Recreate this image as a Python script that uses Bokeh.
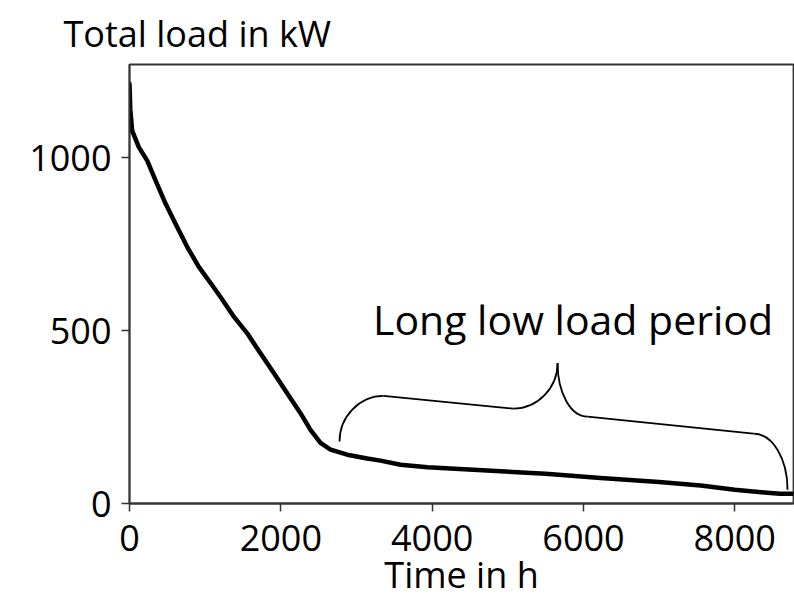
from bokeh.plotting import figure
from bokeh.models import Range1d, FixedTicker, Label
from bokeh.embed import file_html
from bokeh.resources import INLINE

# Load duration curve (hours sorted by load)
hours = [0, 10, 35, 123, 234, 344, 476, 608, 762, 916, 1093, 1203, 1379,
         1556, 1731, 1907, 2084, 2260, 2392, 2524, 2657, 2877, 3142, 3317,
         3583, 3940, 4905, 5500, 6227, 7000, 7549, 8000, 8430, 8600, 8760]
load_kw = [1213, 1140, 1078, 1030, 991, 934, 867, 809, 742, 684, 631, 597,
           540, 492, 434, 377, 319, 261, 213, 175, 156, 141, 130, 124,
           112, 105, 93, 86, 74, 62, 52, 40, 31, 28, 28]

x_ticks = [0, 2000, 4000, 6000, 8000]
y_ticks = [0, 500, 1000]

# Curly brace annotation anchor points (data coordinates)
brace_curves_x0 = [2776, 5075, 5658, 8247]
brace_curves_y0 = [179, 274, 406, 202]
brace_curves_x1 = [3357, 5658, 6055, 8697]
brace_curves_y1 = [311, 406, 251, 40]
brace_curves_cx0 = [2776, 5393, 5658, 8498]
brace_curves_cy0 = [251, 274, 320, 202]
brace_curves_cx1 = [3040, 5658, 5829, 8697]
brace_curves_cy1 = [311, 334, 251, 130]
brace_lines_x0 = [3357, 6055]
brace_lines_y0 = [311, 251]
brace_lines_x1 = [5075, 8247]
brace_lines_y1 = [274, 202]

annotation_text = "Long low load period"
annotation_x = 5862
annotation_y = 532

title_text = "Total load in kW"
xlabel_text = "Time in h"

FONT = "Open Sans"

p = figure(width=794, height=601, output_backend="svg", toolbar_location=None,
           x_range=Range1d(0, 8776), y_range=Range1d(0, 1269),
           min_border_left=129, min_border_right=1, min_border_top=64,
           min_border_bottom=97)

p.line(hours, load_kw, line_color="black", line_width=4.5,
       line_join="round", line_cap="round")

p.bezier(x0=brace_curves_x0, y0=brace_curves_y0, x1=brace_curves_x1,
         y1=brace_curves_y1, cx0=brace_curves_cx0, cy0=brace_curves_cy0,
         cx1=brace_curves_cx1, cy1=brace_curves_cy1,
         line_color="black", line_width=1.8)
p.segment(x0=brace_lines_x0, y0=brace_lines_y0, x1=brace_lines_x1,
          y1=brace_lines_y1, line_color="black", line_width=1.8)

p.add_layout(Label(x=annotation_x, y=annotation_y, text=annotation_text,
                   text_font=FONT, text_font_size="41px", text_align="center",
                   text_baseline="alphabetic", text_color="black"))

p.title.text = title_text
p.title.text_font = FONT
p.title.text_font_size = "36px"
p.title.text_font_style = "normal"
p.title.text_color = "black"
p.title.align = "left"
p.title.vertical_align = "top"
p.title.text_line_height = 0.75
p.title.offset = -66
p.title.standoff = 10

p.grid.visible = False
p.outline_line_color = "#333333"
p.outline_line_width = 1.8
p.outline_line_alpha = 1

for ax in (p.xaxis, p.yaxis):
    ax.axis_line_color = "#333333"
    ax.axis_line_width = 1.8
    ax.major_tick_line_color = "#333333"
    ax.major_tick_line_width = 1.5
    ax.major_tick_in = 0
    ax.major_tick_out = 8
    ax.minor_tick_line_color = None
    ax.major_label_text_font = FONT
    ax.major_label_text_font_size = "36px"
    ax.major_label_text_color = "black"

p.xaxis.ticker = FixedTicker(ticks=x_ticks)
p.yaxis.ticker = FixedTicker(ticks=y_ticks)
p.xaxis.major_label_standoff = 13
p.yaxis.major_label_standoff = 10
p.xaxis.axis_label = xlabel_text
p.xaxis.axis_label_text_font = FONT
p.xaxis.axis_label_text_font_size = "36px"
p.xaxis.axis_label_text_font_style = "normal"
p.xaxis.axis_label_text_color = "black"
p.xaxis.axis_label_standoff = -4

open("out.html", "w").write(file_html(p, INLINE))
